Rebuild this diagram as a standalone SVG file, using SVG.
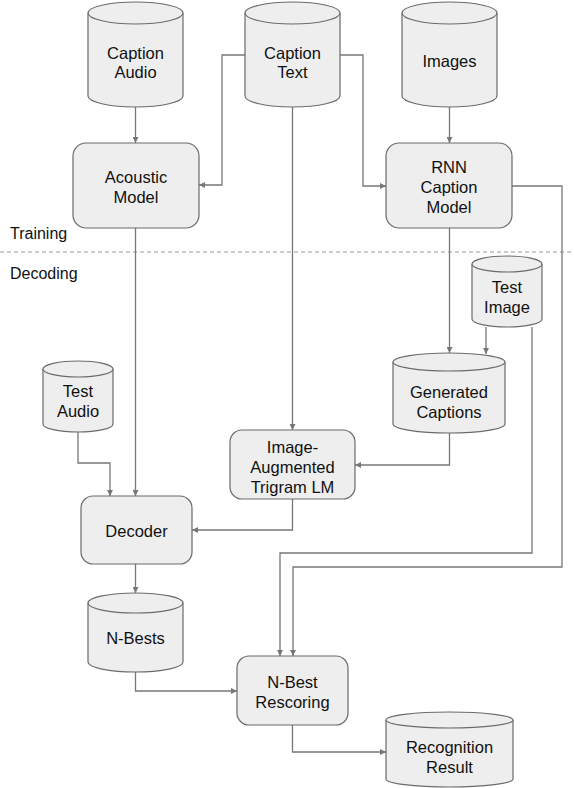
<svg xmlns="http://www.w3.org/2000/svg" width="574" height="788" viewBox="0 0 574 788">
<style>
.shape{fill:#eeeeee;stroke:#6b6b6b;stroke-width:1.2}
.lbl{font-family:"Liberation Sans",Arial,sans-serif;font-size:16.5px;fill:#111;text-anchor:middle}
.side{font-family:"Liberation Sans",Arial,sans-serif;font-size:16px;fill:#111}
.edge{fill:none;stroke:#777;stroke-width:1.3}
</style>
<defs>
<marker id="ah" viewBox="0 0 8 8" refX="8" refY="4" markerWidth="6" markerHeight="6" markerUnits="userSpaceOnUse" orient="auto">
<path d="M0,0 L8,4 L0,8 Z" fill="#777"/>
</marker>
</defs>
<rect width="574" height="788" fill="#ffffff"/>
<line x1="0" y1="252" x2="574" y2="252" stroke="#999" stroke-width="1" stroke-dasharray="4,3"/>
<text class="side" x="10" y="239">Training</text>
<text class="side" x="10" y="279">Decoding</text>

<g id="connectors">
<path class="edge" d="M135.5,107 V143" marker-end="url(#ah)"/>
<path class="edge" d="M245,55 H222 V185 H199" marker-end="url(#ah)"/>
<path class="edge" d="M340,55 H363 V186 H386" marker-end="url(#ah)"/>
<path class="edge" d="M449.5,107 V143" marker-end="url(#ah)"/>
<path class="edge" d="M292.5,107 V430" marker-end="url(#ah)"/>
<path class="edge" d="M449.5,228 V353" marker-end="url(#ah)"/>
<path class="edge" d="M486,327 V354" marker-end="url(#ah)"/>
<path class="edge" d="M512,186 H562 V567 H293 V656" marker-end="url(#ah)"/>
<path class="edge" d="M532,327 V553 H280 V656" marker-end="url(#ah)"/>
<path class="edge" d="M449.5,433 V465 H355" marker-end="url(#ah)"/>
<path class="edge" d="M292.5,499 V530 H192" marker-end="url(#ah)"/>
<path class="edge" d="M135.5,228 V496" marker-end="url(#ah)"/>
<path class="edge" d="M78,432 V463 H110 V496" marker-end="url(#ah)"/>
<path class="edge" d="M135.5,564 V593" marker-end="url(#ah)"/>
<path class="edge" d="M135.5,672 V691 H237" marker-end="url(#ah)"/>
<path class="edge" d="M292.5,725 V752 H386" marker-end="url(#ah)"/>
</g>

<g id="caption-audio">
<path class="shape" d="M88,13 A47.5,11 0 0 1 183,13 V96 A47.5,11 0 0 1 88,96 Z"/>
<path class="shape" d="M88,13 A47.5,11 0 0 0 183,13" fill="none"/>
<text class="lbl" x="135.5" y="59">Caption</text>
<text class="lbl" x="135.5" y="78">Audio</text>
</g>
<g id="caption-text">
<path class="shape" d="M245,13 A47.5,11 0 0 1 340,13 V96 A47.5,11 0 0 1 245,96 Z"/>
<path class="shape" d="M245,13 A47.5,11 0 0 0 340,13" fill="none"/>
<text class="lbl" x="292.5" y="59">Caption</text>
<text class="lbl" x="292.5" y="78">Text</text>
</g>
<g id="images">
<path class="shape" d="M402,13 A47.5,11 0 0 1 497,13 V96 A47.5,11 0 0 1 402,96 Z"/>
<path class="shape" d="M402,13 A47.5,11 0 0 0 497,13" fill="none"/>
<text class="lbl" x="449.5" y="67">Images</text>
</g>
<g id="acoustic-model">
<rect class="shape" x="73" y="143" width="126" height="85" rx="13"/>
<text class="lbl" x="136" y="183">Acoustic</text>
<text class="lbl" x="136" y="203">Model</text>
</g>
<g id="rnn-caption-model">
<rect class="shape" x="386" y="143" width="126" height="85" rx="13"/>
<text class="lbl" x="449" y="173">RNN</text>
<text class="lbl" x="449" y="193">Caption</text>
<text class="lbl" x="449" y="213">Model</text>
</g>
<g id="test-image">
<path class="shape" d="M472,264 A35,8 0 0 1 542,264 V319 A35,8 0 0 1 472,319 Z"/>
<path class="shape" d="M472,264 A35,8 0 0 0 542,264" fill="none"/>
<text class="lbl" x="507" y="293">Test</text>
<text class="lbl" x="507" y="313">Image</text>
</g>
<g id="generated-captions">
<path class="shape" d="M393,362 A56,9 0 0 1 505,362 V424 A56,9 0 0 1 393,424 Z"/>
<path class="shape" d="M393,362 A56,9 0 0 0 505,362" fill="none"/>
<text class="lbl" x="449" y="398">Generated</text>
<text class="lbl" x="449" y="418">Captions</text>
</g>
<g id="image-augmented-lm">
<rect class="shape" x="230" y="430" width="125" height="69" rx="12"/>
<text class="lbl" x="292.5" y="453">Image-</text>
<text class="lbl" x="292.5" y="473">Augmented</text>
<text class="lbl" x="292.5" y="493">Trigram LM</text>
</g>
<g id="test-audio">
<path class="shape" d="M43,369 A35,8 0 0 1 113,369 V424 A35,8 0 0 1 43,424 Z"/>
<path class="shape" d="M43,369 A35,8 0 0 0 113,369" fill="none"/>
<text class="lbl" x="78" y="397">Test</text>
<text class="lbl" x="78" y="417">Audio</text>
</g>
<g id="decoder">
<rect class="shape" x="81" y="496" width="111" height="68" rx="12"/>
<text class="lbl" x="136.5" y="537">Decoder</text>
</g>
<g id="n-bests">
<path class="shape" d="M88,603 A47.5,10 0 0 1 183,603 V662 A47.5,10 0 0 1 88,662 Z"/>
<path class="shape" d="M88,603 A47.5,10 0 0 0 183,603" fill="none"/>
<text class="lbl" x="135.5" y="644">N-Bests</text>
</g>
<g id="n-best-rescoring">
<rect class="shape" x="237" y="656" width="111" height="69" rx="12"/>
<text class="lbl" x="292.5" y="688">N-Best</text>
<text class="lbl" x="292.5" y="708">Rescoring</text>
</g>
<g id="recognition-result">
<path class="shape" d="M386,720 A63.5,8 0 0 1 513,720 V779 A63.5,8 0 0 1 386,779 Z"/>
<path class="shape" d="M386,720 A63.5,8 0 0 0 513,720" fill="none"/>
<text class="lbl" x="449.5" y="753">Recognition</text>
<text class="lbl" x="449.5" y="773">Result</text>
</g>
</svg>
